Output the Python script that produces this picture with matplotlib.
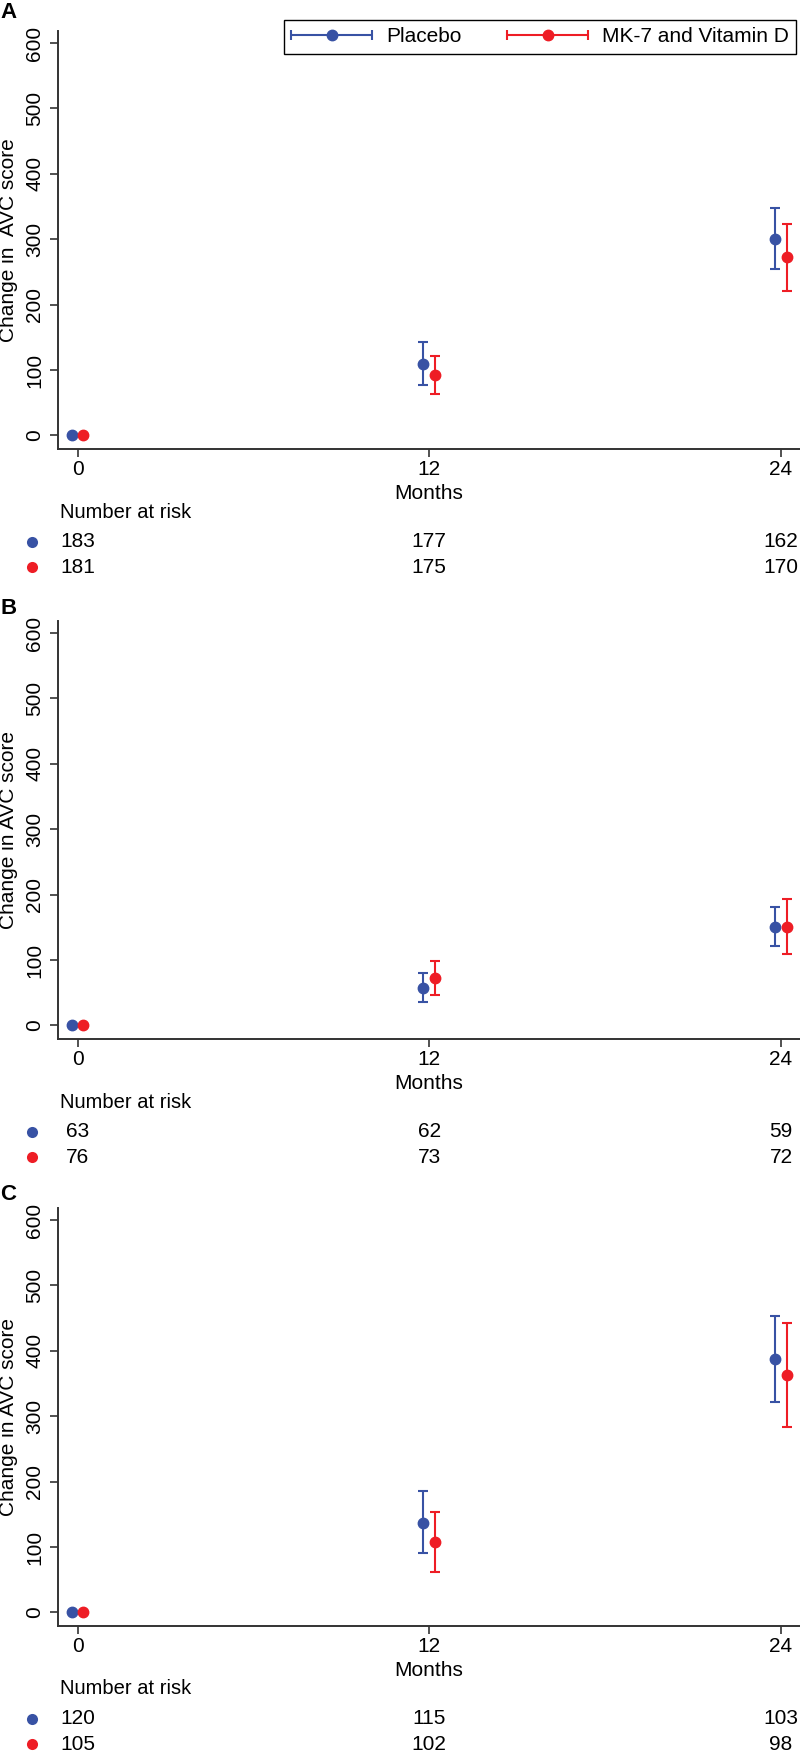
import numpy as np
import matplotlib
matplotlib.use('Agg')
import matplotlib.pyplot as plt
from matplotlib import transforms
from matplotlib.legend_handler import HandlerErrorbar

plt.rcParams['font.family'] = ['Liberation Sans', 'DejaVu Sans']

# ---------------- data ----------------
months = [0, 12, 24]
month_ticks = [0, 12, 24]
y_ticks = [0, 100, 200, 300, 400, 500, 600]
group_names = ['Placebo', 'MK-7 and Vitamin D']
panel_labels = ['A', 'B', 'C']
ylabels = ['Change in  AVC score', 'Change in AVC score', 'Change in AVC score']

# Panel A
a_placebo = [0, 109, 301]
a_placebo_lo = [0, 77, 255]
a_placebo_hi = [0, 142, 347]
a_mk7 = [0, 92, 272]
a_mk7_lo = [0, 63, 221]
a_mk7_hi = [0, 121, 323]
a_risk_placebo = [183, 177, 162]
a_risk_mk7 = [181, 175, 170]

# Panel B
b_placebo = [0, 57, 151]
b_placebo_lo = [0, 35, 122]
b_placebo_hi = [0, 80, 181]
b_mk7 = [0, 72, 151]
b_mk7_lo = [0, 46, 109]
b_mk7_hi = [0, 99, 193]
b_risk_placebo = [63, 62, 59]
b_risk_mk7 = [76, 73, 72]

# Panel C
c_placebo = [0, 137, 387]
c_placebo_lo = [0, 90, 322]
c_placebo_hi = [0, 186, 453]
c_mk7 = [0, 107, 363]
c_mk7_lo = [0, 61, 284]
c_mk7_hi = [0, 153, 442]
c_risk_placebo = [120, 115, 103]
c_risk_mk7 = [105, 102, 98]

panels = [
    (a_placebo, a_placebo_lo, a_placebo_hi, a_mk7, a_mk7_lo, a_mk7_hi, a_risk_placebo, a_risk_mk7),
    (b_placebo, b_placebo_lo, b_placebo_hi, b_mk7, b_mk7_lo, b_mk7_hi, b_risk_placebo, b_risk_mk7),
    (c_placebo, c_placebo_lo, c_placebo_hi, c_mk7, c_mk7_lo, c_mk7_hi, c_risk_placebo, c_risk_mk7),
]

# ---------------- style ----------------
BLUE = '#3852A4'
RED = '#EE1D25'
SPINE = '#333333'
W, H = 800, 1752
FS = 15

fig = plt.figure(figsize=(W / 100, H / 100), dpi=100)

panel_off = [0, 590, 1177]
label_y = [12.5, 609, 1194]

def fy(py):
    return 1 - py / H

legend_handles = None
for i, (p, plo, phi, m, mlo, mhi, rp, rm) in enumerate(panels):
    o = panel_off[i]
    top, bottom = 30.7 + o, 449 + o
    ax = fig.add_axes([58 / W, fy(bottom), 742 / W, (bottom - top) / H])
    ax.set_xlim(-0.67, 24.65)
    ax.set_ylim(-20.9, 618.8)

    xp = np.array(months) - 0.2
    xm = np.array(months) + 0.2
    p = np.array(p); m = np.array(m)
    perr = [p - np.array(plo), np.array(phi) - p]
    merr = [m - np.array(mlo), np.array(mhi) - m]
    ekw = dict(fmt='o', markersize=7.5, capsize=3.9, capthick=1.5, elinewidth=1.5)
    ax.errorbar(xp, p, yerr=perr, color=BLUE, **ekw)
    ax.errorbar(xm, m, yerr=merr, color=RED, **ekw)

    if i == 0:
        hb = ax.errorbar([np.nan], [np.nan], xerr=[1], color=BLUE, label=group_names[0], **ekw)
        hr = ax.errorbar([np.nan], [np.nan], xerr=[1], color=RED, label=group_names[1], **ekw)
        legend_handles = [hb, hr]

    for s in ['top', 'right']:
        ax.spines[s].set_visible(False)
    for s in ['left', 'bottom']:
        ax.spines[s].set_color(SPINE)
        ax.spines[s].set_linewidth(1.4)
    ax.set_xticks(month_ticks)
    ax.set_yticks(y_ticks)
    ax.tick_params(axis='both', direction='out', length=6, width=1.2, color=SPINE,
                   labelsize=FS, labelcolor='black')
    ax.tick_params(axis='x', pad=2)
    ax.tick_params(axis='y', pad=4)
    for lab in ax.get_yticklabels():
        lab.set_rotation(90)
        lab.set_va('center')

    # y label
    fig.text(9 / W, fy((top + bottom) / 2), ylabels[i], rotation=90, ha='center',
             va='center', fontsize=FS)
    # Months label
    fig.text(429 / W, fy(493.3 + o), 'Months', ha='center', va='center', fontsize=FS)
    # panel letter
    fig.text(0 / W, fy(label_y[i]), panel_labels[i], ha='left', va='center',
             fontsize=FS + 1, fontweight='bold')

    # risk table
    fig.text(60 / W, fy(512 + o), 'Number at risk', ha='left', va='center', fontsize=14.5)
    tr = transforms.blended_transform_factory(ax.transData, fig.transFigure)
    for row_y, vals, col in [(541.7 + o, rp, BLUE), (567.3 + o, rm, RED)]:
        fig.lines.append(plt.Line2D([32 / W], [fy(row_y)], marker='o', markersize=8,
                                    color=col, markeredgewidth=0, linestyle='none',
                                    transform=fig.transFigure))
        for xm_, v in zip(months, vals):
            ax.text(xm_, fy(row_y), str(v), transform=tr, ha='center', va='center',
                    fontsize=FS, clip_on=False)

leg = fig.legend(handles=legend_handles, labels=group_names, loc='upper right',
                 bbox_to_anchor=(796 / W, fy(20)), ncol=2, fontsize=FS,
                 frameon=True, fancybox=False, edgecolor='black', framealpha=1,
                 handlelength=3.9, handletextpad=0.65, columnspacing=2.2,
                 borderpad=0.35, borderaxespad=0,
                 handler_map={type(legend_handles[0]): HandlerErrorbar(xerr_size=1.95)})
leg.get_frame().set_linewidth(1.0)

fig.savefig('out.png', dpi=100)
